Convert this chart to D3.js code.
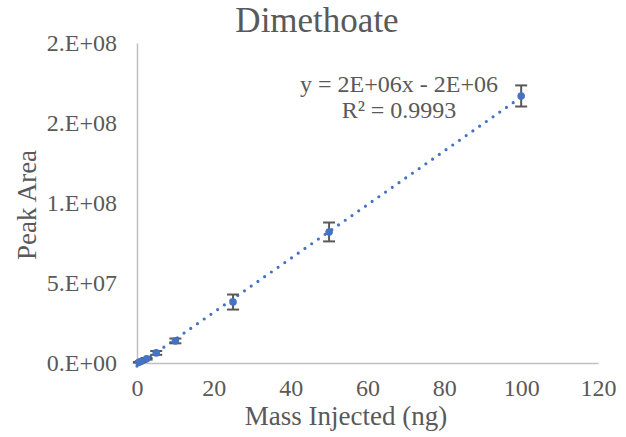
<!DOCTYPE html>
<html>
<head>
<meta charset="utf-8">
<script src="https://cdn.jsdelivr.net/npm/d3@7"></script>
<style>
  body { margin: 0; background: #fff; }
  svg { display: block; font-family: 'Liberation Serif', 'Times New Roman', serif; }
</style>
</head>
<body>
<div id="chart"></div>
<script>
// mass injected (ng)
const massValues = [0.5, 1, 2.5, 5, 10, 25, 50, 100];
// mean peak area
const peakArea = [0.4e6, 0.9e6, 2.6e6, 6.3e6, 13.8e6, 38.1e6, 81.9e6, 166.9e6];
// std dev for error bars
const peakErr = [0.2e6, 0.3e6, 0.5e6, 1.2e6, 1.5e6, 4.7e6, 5.9e6, 6.6e6];

const xTicks = [0, 20, 40, 60, 80, 100, 120];
const yTicks = [0, 5e7, 1e8, 1.5e8, 2e8];
const yTickLabels = ['0.E+00', '5.E+07', '1.E+08', '2.E+08', '2.E+08'];

const chartTitle = 'Dimethoate';
const xTitle = 'Mass Injected (ng)';
const yTitle = 'Peak Area';
const eqLines = ['y = 2E+06x - 2E+06', 'R\u00b2 = 0.9993'];

const width = 626, height = 437;
const textColor = '#595959';
const axisColor = '#bfbfbf';
const pointColor = '#4472c4';

const svg = d3.select('#chart')
  .append('svg')
    .attr('width', width)
    .attr('height', height);

const x = d3.scaleLinear().domain([0, 120]).range([137, 598]);
const y = d3.scaleLinear().domain([0, 2e8]).range([363, 43]);

// axes (Excel style: line only, no ticks)
const xAxis = svg.append('g')
  .attr('transform', 'translate(0,' + y(0) + ')')
  .call(d3.axisBottom(x).tickValues(xTicks).tickSize(0).tickPadding(16));
xAxis.select('.domain').attr('stroke', axisColor).attr('stroke-width', 1.5);
xAxis.selectAll('text')
  .style('font-family', 'Liberation Serif')
  .style('font-size', '24px')
  .style('fill', textColor);

const yAxis = svg.append('g')
  .attr('transform', 'translate(' + x(0) + ',0)')
  .call(d3.axisLeft(y).tickValues(yTicks).tickSize(0).tickPadding(20)
    .tickFormat((d, i) => yTickLabels[i]));
yAxis.select('.domain').attr('stroke', axisColor).attr('stroke-width', 1.5);
yAxis.selectAll('text')
  .style('font-family', 'Liberation Serif')
  .style('font-size', '24px')
  .style('fill', textColor);

const data = massValues.map((m, i) => ({ x: m, y: peakArea[i], e: peakErr[i] }));

// linear trendline (least squares)
const mx = d3.mean(data, d => d.x);
const my = d3.mean(data, d => d.y);
const slope = d3.sum(data, d => (d.x - mx) * (d.y - my)) / d3.sum(data, d => (d.x - mx) ** 2);
const intercept = my - slope * mx;
const trendX = [0, 100];

svg.append('line')
  .attr('x1', x(trendX[0]))
  .attr('y1', y(slope * trendX[0] + intercept))
  .attr('x2', x(trendX[1]))
  .attr('y2', y(slope * trendX[1] + intercept))
  .attr('stroke', pointColor)
  .attr('stroke-width', 3.2)
  .attr('stroke-linecap', 'round')
  .attr('stroke-dasharray', '0 8.2');

// error bars
const eb = svg.append('g').selectAll('g')
  .data(data)
  .enter()
  .append('g')
  .attr('stroke', '#595959')
  .attr('stroke-width', 2);
eb.append('line')
  .attr('x1', d => x(d.x)).attr('x2', d => x(d.x))
  .attr('y1', d => y(d.y - d.e)).attr('y2', d => y(d.y + d.e));
eb.append('line')
  .attr('x1', d => x(d.x) - 6).attr('x2', d => x(d.x) + 6)
  .attr('y1', d => y(d.y + d.e)).attr('y2', d => y(d.y + d.e));
eb.append('line')
  .attr('x1', d => x(d.x) - 6).attr('x2', d => x(d.x) + 6)
  .attr('y1', d => y(d.y - d.e)).attr('y2', d => y(d.y - d.e));

// points
svg.append('g')
  .selectAll('circle')
  .data(data)
  .enter()
  .append('circle')
    .attr('cx', d => x(d.x))
    .attr('cy', d => y(d.y))
    .attr('r', 3.8)
    .style('fill', pointColor);

// title
svg.append('text')
  .attr('x', 317)
  .attr('y', 32)
  .attr('text-anchor', 'middle')
  .style('font-size', '35px')
  .style('fill', textColor)
  .text(chartTitle);

// axis titles
svg.append('text')
  .attr('x', 346)
  .attr('y', 425)
  .attr('text-anchor', 'middle')
  .style('font-size', '27px')
  .style('fill', textColor)
  .text(xTitle);

svg.append('text')
  .attr('transform', 'translate(36,205) rotate(-90)')
  .attr('text-anchor', 'middle')
  .style('font-size', '27px')
  .style('fill', textColor)
  .text(yTitle);

// trendline equation
svg.append('g')
  .selectAll('text')
  .data(eqLines)
  .enter()
  .append('text')
    .attr('x', 399)
    .attr('y', (d, i) => 92 + i * 26)
    .attr('text-anchor', 'middle')
    .style('font-size', '24px')
    .style('fill', textColor)
    .text(d => d);
</script>
</body>
</html>
